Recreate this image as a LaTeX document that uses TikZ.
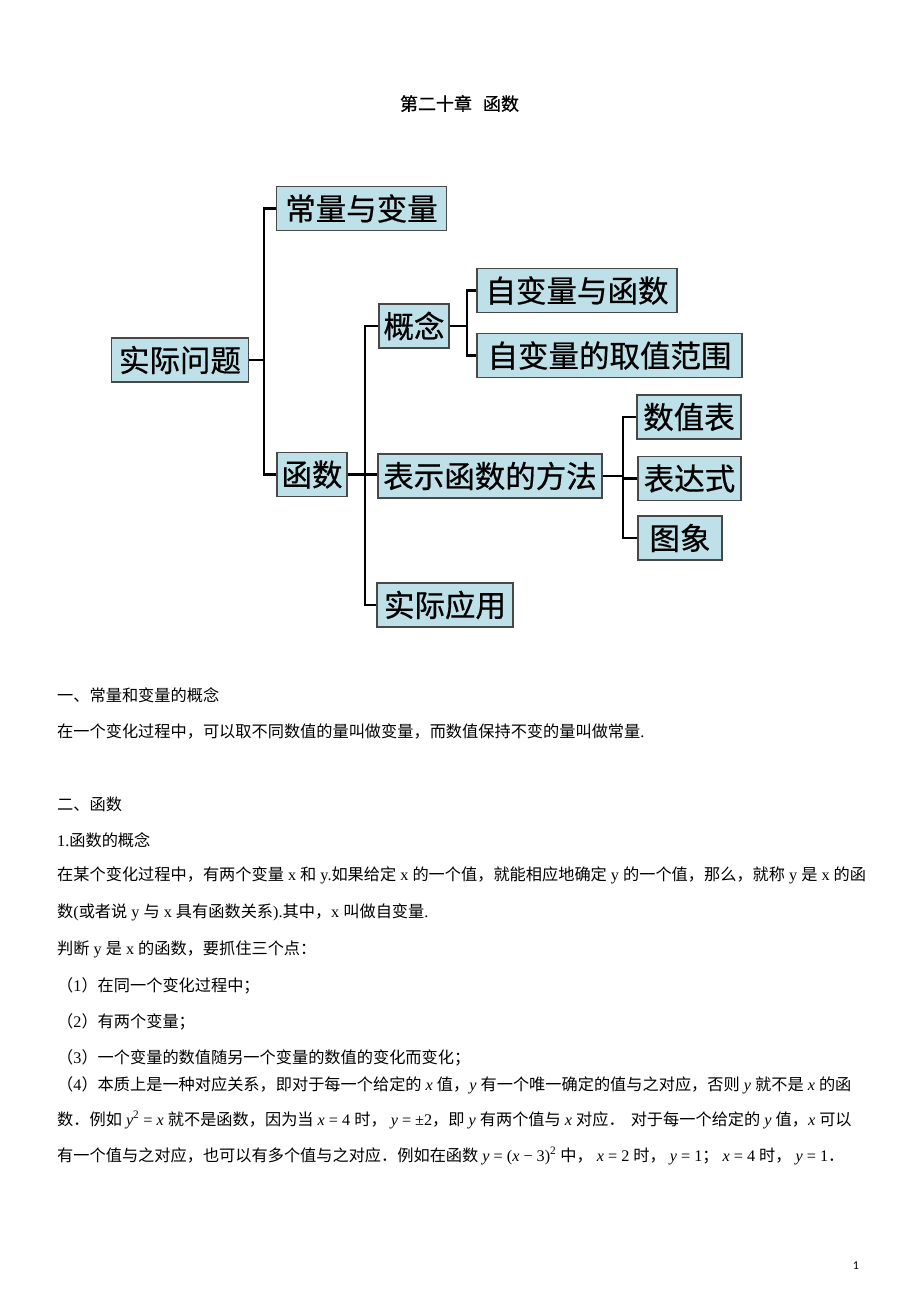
\documentclass[tikz,border=0pt]{standalone}
\usepackage{fontspec}
\setmainfont{Noto Sans CJK SC}
\newfontfamily\boxfont{Noto Sans CJK SC}[FakeBold=0.6]
\newfontfamily\titlefont{Noto Sans CJK SC}[FakeBold=0.8]
\newfontfamily\tmfont{Liberation Serif}
\newfontfamily\pgfont{Carlito}
\newcommand\latn[1]{{\tmfont #1}}
\newcommand\mi[1]{{\tmfont\itshape #1}}
\newcommand\mr[1]{{\tmfont #1}}
\definecolor{boxfill}{RGB}{190,224,232}
\definecolor{boxline}{RGB}{72,72,72}
\tikzset{
  mapbox/.style={draw=boxline, line width=1.6pt, fill=boxfill, inner sep=0pt,
    minimum height=44pt, font=\boxfont\fontsize{30.5}{30.5}\selectfont, text=black},
  conn/.style={line width=2.2pt, black},
  bodyline/.style={anchor=west, inner sep=0pt, font=\fontsize{16.2}{16.2}\selectfont}
}
\begin{document}
\begin{tikzpicture}[x=1pt,y=-1pt]
\useasboundingbox[fill=white] (0,0) rectangle (920,1302);

% title
\node[inner sep=0pt, font=\titlefont\fontsize{18}{18}\selectfont] (title) at (459.5,103.5) {第二十章\hspace{11pt}函数};

% boxes
\node[mapbox, minimum width=170pt] (cl) at (361.5,208.5) {常量与变量};
\node[mapbox, minimum width=137pt] (sj) at (180,360) {实际问题};
\node[mapbox, minimum width=70pt]  (hs) at (312,474.5) {函数};
\node[mapbox, minimum width=70pt]  (gn) at (414,326) {概念};
\node[mapbox, minimum width=200pt] (zb) at (577,290.5) {自变量与函数};
\node[mapbox, minimum width=265pt] (qz) at (609.5,355.5) {自变量的取值范围};
\node[mapbox, minimum width=224pt] (bs) at (490,476) {表示函数的方法};
\node[mapbox, minimum width=104pt] (sz) at (689,417) {数值表};
\node[mapbox, minimum width=103pt] (bd) at (689.5,478.5) {表达式};
\node[mapbox, minimum width=84pt]  (tx) at (680,538) {图象};
\node[mapbox, minimum width=136pt] (sy) at (445,605) {实际应用};

% bracket columns
\coordinate (b1) at (264,0);
\coordinate (b2) at (365,0);
\coordinate (b3) at (467,0);
\coordinate (b4) at (623,0);

\draw[conn] (sj.east) -- (sj.east -| b1);
\draw[conn] (cl.west) -- (cl.west -| b1) -- (hs.west -| b1) -- (hs.west);
\draw[conn] (gn.west) -- (gn.west -| b2) -- (sy.west -| b2) -- (sy.west);
\draw[conn] (hs.east) -- (hs.east -| bs.west);
\draw[conn] (gn.east) -- (gn.east -| b3);
\draw[conn] (zb.west) -- (zb.west -| b3) -- (qz.west -| b3) -- (qz.west);
\draw[conn] (bs.east) -- (bs.east -| b4);
\draw[conn] (sz.west) -- (sz.west -| b4) -- (tx.west -| b4) -- (tx.west);
\draw[conn] (bd.west) -- (bd.west -| b4);

% body text
\node[bodyline] (l1) at (57,695) {一、常量和变量的概念};
\node[bodyline] (l2) at (57,731.5) {在一个变化过程中，可以取不同数值的量叫做变量，而数值保持不变的量叫做常量\latn{.}};
\node[bodyline] (l3) at (57,804) {二、函数};
\node[bodyline] (l4) at (57,840.5) {\latn{1.}函数的概念};
\node[bodyline] (l5) at (57,875.5) {在某个变化过程中，有两个变量\latn{ x }和\latn{ y.}如果给定\latn{ x }的一个值，就能相应地确定\latn{ y }的一个值，那么，就称\latn{ y }是\latn{ x }的函};
\node[bodyline] (l6) at (57,912) {数\latn{(}或者说\latn{ y }与\latn{ x }具有函数关系\latn{).}其中，\latn{x }叫做自变量\latn{.}};
\node[bodyline] (l7) at (57,949) {判断\latn{ y }是\latn{ x }的函数，要抓住三个点：};
\node[bodyline] (l8) at (57,985.5) {（\latn{1}）在同一个变化过程中；};
\node[bodyline] (l9) at (57,1022) {（\latn{2}）有两个变量；};
\node[bodyline] (l10) at (57,1058) {（\latn{3}）一个变量的数值随另一个变量的数值的变化而变化；};
\node[bodyline] (l11) at (57,1085) {（\latn{4}）本质上是一种对应关系，即对于每一个给定的\mi{ x }值，\mi{y }有一个唯一确定的值与之对应，否则\mi{ y }就不是\mi{ x }的函};
\node[bodyline] (l12) at (57,1120) {数．例如\mi{ y}\mr{\textsuperscript{2} = }\mi{x }就不是函数，因为当\mi{ x}\mr{ = 4 }时，\mi{ y}\mr{ = ±2}，即\mi{ y }有两个值与\mi{ x }对应．\hspace{6pt}对于每一个给定的\mi{ y }值，\mi{x }可以};
\node[bodyline] (l13) at (57,1156) {有一个值与之对应，也可以有多个值与之对应．例如在函数\mi{ y}\mr{ = (}\mi{x}\mr{ − 3)\textsuperscript{2} }中，\mi{ x}\mr{ = 2 }时，\mi{ y}\mr{ = 1}；\mi{ x}\mr{ = 4 }时，\mi{ y}\mr{ = 1}．};

% page number
\node[inner sep=0pt, font=\pgfont\fontsize{12}{12}\selectfont] (pg) at (856,1266) {1};
\end{tikzpicture}
\end{document}
